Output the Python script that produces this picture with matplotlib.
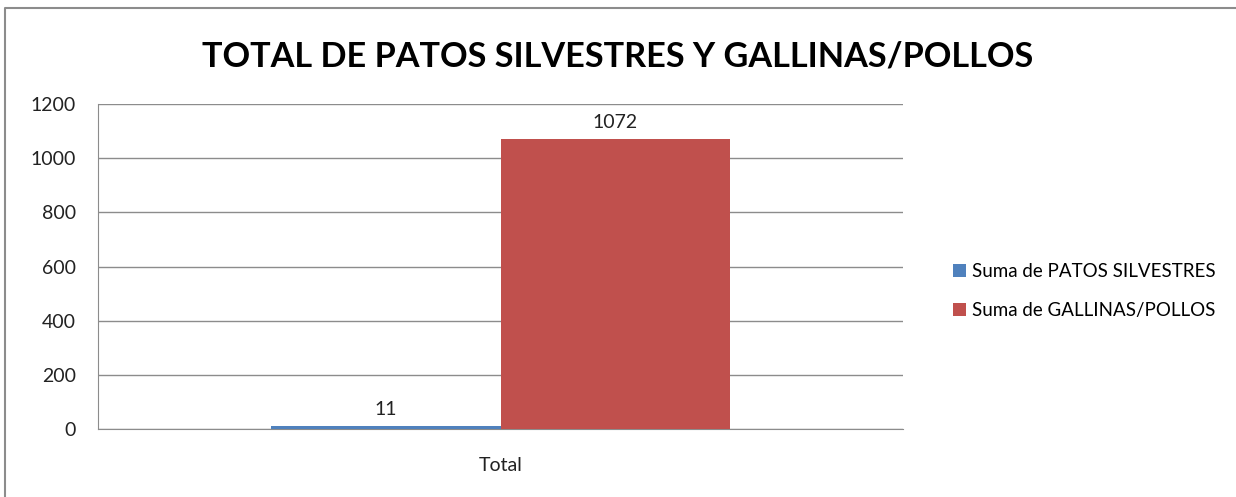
import matplotlib.pyplot as plt
from matplotlib.lines import Line2D

# data
categories = ['Total']
series_names = ['Suma de PATOS SILVESTRES', 'Suma de GALLINAS/POLLOS']
series_values = [[11], [1072]]
colors = ['#4F81BD', '#C0504D']
yticks = [0, 200, 400, 600, 800, 1000, 1200]

plt.rcParams['font.family'] = ['Lato', 'DejaVu Sans']

fig = plt.figure(figsize=(12.36, 4.97), dpi=100)
ax = fig.add_axes([98 / 1236, 1 - 429 / 497, 805 / 1236, 325 / 497])

# outer chart border: only left and top edges show in the picture
bx, by = 5 / 1236, 1 - 8 / 497
fig.add_artist(Line2D([bx, bx, 1.0], [0.0, by, by], transform=fig.transFigure,
                      color='#8c8c8c', linewidth=1.5))

width = 0.2857
offsets = [-width / 2, width / 2]
for name, vals, col, off in zip(series_names, series_values, colors, offsets):
    xs = [i + off for i in range(len(categories))]
    bars = ax.bar(xs, vals, width, color=col, label=name, zorder=3)
    for b, v in zip(bars, vals):
        ax.text(b.get_x() + b.get_width() / 2, v + 28, str(v),
                ha='center', va='bottom', fontsize=14, color='#222222')

ax.set_xlim(-0.5, 0.5)
ax.set_ylim(0, 1200)
ax.set_yticks(yticks)
ax.set_xticks(range(len(categories)))
ax.set_xticklabels(categories)
ax.tick_params(axis='both', length=0, labelsize=14, colors='#222222')
ax.tick_params(axis='y', pad=16)
ax.tick_params(axis='x', pad=20)
ax.yaxis.grid(True, color='#8c8c8c', linewidth=1, zorder=0)
for s in ['top', 'right']:
    ax.spines[s].set_visible(False)
for s in ['left', 'bottom']:
    ax.spines[s].set_color('#8c8c8c')

fig.text(0.5, 1 - 56 / 497, 'TOTAL DE PATOS SILVESTRES Y GALLINAS/POLLOS',
         ha='center', va='center', fontsize=24.7, fontweight='bold', color='black')

ax.legend(loc='center left', bbox_to_anchor=(936 / 1236, 1 - 291 / 497),
          bbox_transform=fig.transFigure, frameon=False, fontsize=13.5,
          handlelength=0.7, handleheight=0.7, handletextpad=0.3, labelspacing=1.15)

fig.savefig('out.png', dpi=100, facecolor='white')
